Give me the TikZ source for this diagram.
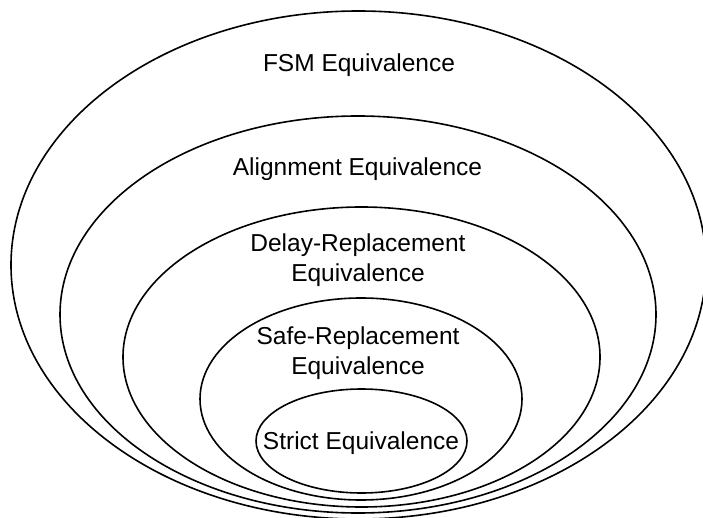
\documentclass[tikz,border=0pt]{standalone}
\usepackage{fontspec}
\setmainfont{Liberation Sans}
\begin{document}
\begin{tikzpicture}[x=1pt,y=-1pt,
  setring/.style={draw=black,line width=1.6pt},
  setlabel/.style={anchor=base,inner sep=0pt,align=center,
    font=\fontsize{24.5}{30}\selectfont}]
\useasboundingbox (0,0) rectangle (703,518);
\clip (0,0) rectangle (703,518);
% nested equivalence classes, outermost first
\draw[setring] (358.5,265) ellipse [x radius=347.5pt, y radius=254pt];
\draw[setring] (358,314.5) ellipse [x radius=298pt, y radius=198.5pt];
\draw[setring] (361.5,357) ellipse [x radius=238.5pt, y radius=150pt];
\draw[setring] (361,399) ellipse [x radius=161pt, y radius=101pt];
\draw[setring] (361.5,441) ellipse [x radius=105.5pt, y radius=52pt];
% class names
\node[setlabel] (fsm) at (359,72) {FSM Equivalence};
\node[setlabel] (align) at (357.5,176) {Alignment Equivalence};
\node[setlabel] (delay) at (358,281) {Delay-Replacement\\Equivalence};
\node[setlabel] (safe) at (358,374) {Safe-Replacement\\Equivalence};
\node[setlabel] (strict) at (361,449) {Strict Equivalence};
\end{tikzpicture}
\end{document}
